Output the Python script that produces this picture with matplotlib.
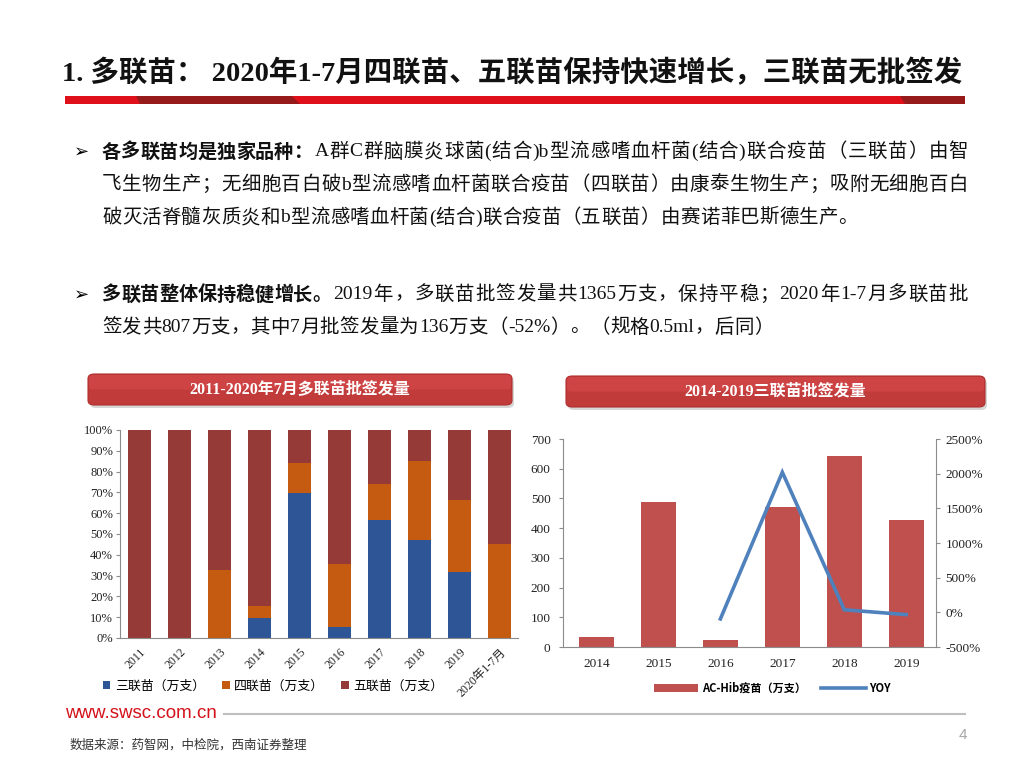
import re
import matplotlib
matplotlib.use('Agg')
import matplotlib.pyplot as plt
from matplotlib.patches import FancyBboxPatch, Polygon, Patch
from matplotlib.lines import Line2D
from matplotlib.font_manager import FontProperties
from matplotlib.ticker import FuncFormatter
import numpy as np

# ---------------- data ----------------
left_years = ['2011', '2012', '2013', '2014', '2015', '2016', '2017', '2018', '2019', '2020年1-7月']
san_share = [0, 0, 0, 9.6, 69.7, 5.1, 56.8, 47.0, 31.5, 0]        # 三联苗 %
si_share = [0, 0, 32.5, 5.6, 14.2, 30.4, 17.4, 38.1, 34.8, 45.3]   # 四联苗 %
wu_share = [100, 100, 67.5, 84.8, 16.1, 64.5, 25.8, 14.9, 33.7, 54.7]  # 五联苗 %
left_series = ['三联苗（万支）', '四联苗（万支）', '五联苗（万支）']

right_years = ['2014', '2015', '2016', '2017', '2018', '2019']
achib = [34, 489, 23, 470, 644, 428]
yoy = [np.nan, np.nan, -95, 2020, 37, -33]
right_series = ['AC-Hib疫苗（万支）', 'YOY']

title = '1. 多联苗： 2020年1-7月四联苗、五联苗保持快速增长，三联苗无批签发'
box_left = '2011-2020年7月多联苗批签发量'
box_right = '2014-2019三联苗批签发量'
para1 = [('各多联苗均是独家品种：', 'A群C群脑膜炎球菌(结合)b型流感嗜血杆菌(结合)联合疫苗（三联苗）由智'),
         ('', '飞生物生产；无细胞百白破b型流感嗜血杆菌联合疫苗（四联苗）由康泰生物生产；吸附无细胞百白'),
         ('', '破灭活脊髓灰质炎和b型流感嗜血杆菌(结合)联合疫苗（五联苗）由赛诺菲巴斯德生产。')]
para2 = [('多联苗整体保持稳健增长。', '2019年，多联苗批签发量共1365万支，保持平稳；2020年1-7月多联苗批'),
         ('', '签发共807万支，其中7月批签发量为136万支（-52%）。（规格0.5ml，后同）')]
source = '数据来源：药智网，中检院，西南证券整理'

# ---------------- style ----------------
FAM = ['Liberation Serif', 'Noto Sans CJK SC']
CJK = ['Noto Sans CJK SC', 'DejaVu Sans']
C_BLUE, C_ORANGE, C_RED = '#2E5596', '#C55A11', '#963A38'
C_BAR, C_LINE = '#C0504D', '#4F81BD'
W, H = 1024, 768

fig = plt.figure(figsize=(W / 100, H / 100), dpi=100)
fig.patch.set_facecolor('white')


def fx(x):
    return x / W


def fy(y):
    return 1 - y / H


# ---------------- slide title ----------------
fig.text(fx(62), fy(73), title, family=FAM, fontsize=20.5, fontweight='bold',
         va='center', ha='left', color='#111111')
bar_y0, bar_y1 = fy(104), fy(96)
fig.patches.append(Polygon([[fx(65), bar_y0], [fx(965), bar_y0], [fx(965), bar_y1], [fx(65), bar_y1]],
                           closed=True, transform=fig.transFigure, facecolor='#E0101A', edgecolor='none'))
fig.patches.append(Polygon([[fx(140), bar_y0], [fx(300), bar_y0], [fx(292), bar_y1], [fx(136), bar_y1]],
                           closed=True, transform=fig.transFigure, facecolor='#961A1A', edgecolor='none'))
fig.patches.append(Polygon([[fx(905), bar_y0], [fx(965), bar_y0], [fx(965), bar_y1], [fx(900), bar_y1]],
                           closed=True, transform=fig.transFigure, facecolor='#961A1A', edgecolor='none'))

# ---------------- bullet text (token layout with justification) ----------------
fig.canvas.draw()
renderer = fig.canvas.get_renderer()


def advance(tok, prop):
    w1, _, _ = renderer.get_text_width_height_descent('|' + tok + '|', prop, ismath=False)
    w0, _, _ = renderer.get_text_width_height_descent('||', prop, ismath=False)
    return w1 - w0


def place_run(x0, y, s, family, fs, weight, x_end=None, track=0.0):
    prop = FontProperties(family=family, size=fs, weight=weight)
    toks = re.findall(r'[\x00-\x7f]+|.', s)
    advs = [advance(t, prop) for t in toks]
    if x_end is not None and len(toks) > 1:
        track = (x_end - x0 - sum(advs)) / (len(toks) - 1)
    x = x0
    for t, a in zip(toks, advs):
        fig.text(fx(x), fy(y), t, fontproperties=prop, va='center', ha='left', color='#111111')
        x += a + track
    return x - track


NFS = 14
BFS = 13.8


def write_line(y, bold, normal, justify):
    x = 102
    if bold:
        x = place_run(x, y, bold, CJK, BFS, 'bold') + 2
    if justify:
        place_run(x, y, normal, FAM, NFS, 'normal', x_end=968)
    else:
        place_run(x, y, normal, FAM, NFS, 'normal', track=0.3)


fig.text(fx(74), fy(152), '➢', family=['DejaVu Sans'], fontsize=13, va='center', ha='left')
write_line(152, para1[0][0], para1[0][1], True)
write_line(185, '', para1[1][1], True)
write_line(218, '', para1[2][1], False)
fig.text(fx(74), fy(295), '➢', family=['DejaVu Sans'], fontsize=13, va='center', ha='left')
write_line(295, para2[0][0], para2[0][1], True)
write_line(328, '', para2[1][1], False)


# ---------------- chart title banners ----------------
def banner(x0, y0, x1, y1, text):
    shadow = FancyBboxPatch((fx(x0 + 2), fy(y1 + 3)), fx(x1 - x0), (y1 - y0) / H,
                            boxstyle='round,pad=0,rounding_size=0.006', transform=fig.transFigure,
                            facecolor='#BBBBBB', edgecolor='none', alpha=0.6)
    fig.patches.append(shadow)
    box = FancyBboxPatch((fx(x0), fy(y1)), fx(x1 - x0), (y1 - y0) / H,
                         boxstyle='round,pad=0,rounding_size=0.006', transform=fig.transFigure,
                         facecolor='#C23B3B', edgecolor='#B03030', linewidth=0.8)
    fig.patches.append(box)
    top = FancyBboxPatch((fx(x0 + 1), fy((y0 + y1) / 2)), fx(x1 - x0 - 2), (y1 - y0) / 2 / H - 1 / H,
                         boxstyle='round,pad=0,rounding_size=0.004', transform=fig.transFigure,
                         facecolor='#CE4444', edgecolor='none')
    fig.patches.append(top)
    fig.text(fx((x0 + x1) / 2), fy((y0 + y1) / 2), text, family=FAM, fontsize=11.5, fontweight='bold',
             color='white', ha='center', va='center')


banner(88, 374, 512, 405, box_left)
banner(566, 376, 985, 407, box_right)

# ---------------- left chart ----------------
ax1 = fig.add_axes([fx(120), fy(638), fx(398), 208 / H])
x = np.arange(len(left_years))
bw = 0.58
b1 = np.array(san_share)
b2 = np.array(si_share)
b3 = np.array(wu_share)
ax1.bar(x, b1, bw, color=C_BLUE, label=left_series[0])
ax1.bar(x, b2, bw, bottom=b1, color=C_ORANGE, label=left_series[1])
ax1.bar(x, b3, bw, bottom=b1 + b2, color=C_RED, label=left_series[2])
ax1.set_xlim(-0.49, len(left_years) - 0.54)
ax1.set_ylim(0, 100)
ax1.set_yticks(np.arange(0, 101, 10))
ax1.yaxis.set_major_formatter(FuncFormatter(lambda v, p: f'{int(v)}%'))
ax1.set_xticks(x)
ax1.set_xticklabels(left_years, rotation=45, ha='right', rotation_mode='anchor')
for lab in ax1.get_yticklabels():
    lab.set_fontfamily(FAM)
    lab.set_fontsize(9)
    lab.set_color('#222222')
for lab in ax1.get_xticklabels():
    lab.set_fontfamily(FAM)
    lab.set_fontsize(8.5)
    lab.set_color('#222222')
for s in ['top', 'right']:
    ax1.spines[s].set_visible(False)
for s in ['left', 'bottom']:
    ax1.spines[s].set_color('#8C8C8C')
    ax1.spines[s].set_linewidth(0.8)
ax1.tick_params(axis='y', length=3, color='#8C8C8C', pad=2)
ax1.tick_params(axis='x', length=0, pad=6)

h1 = [Patch(facecolor=C_BLUE), Patch(facecolor=C_ORANGE), Patch(facecolor=C_RED)]
fig.legend(h1, left_series, loc='center left', bbox_to_anchor=(fx(91), fy(686)), ncol=3,
           frameon=False, handlelength=0.6, handleheight=0.6, handletextpad=0.35, columnspacing=1.3,
           prop=FontProperties(family=CJK, size=9.3))

# ---------------- right chart ----------------
ax2 = fig.add_axes([fx(563), fy(647), fx(373), 208 / H])
xr = np.arange(len(right_years))
ax2.bar(xr, achib, 0.56, color=C_BAR, label=right_series[0])
ax2.set_xlim(-0.54, len(right_years) - 0.52)
ax2.set_ylim(0, 700)
ax2.set_yticks(np.arange(0, 701, 100))
ax2.set_xticks(xr)
ax2.set_xticklabels(right_years)
ax3 = ax2.twinx()
ax3.plot(xr, yoy, color=C_LINE, lw=2.6, solid_joinstyle='miter')
ax3.set_ylim(-500, 2500)
ax3.set_yticks(np.arange(-500, 2501, 500))
ax3.yaxis.set_major_formatter(FuncFormatter(lambda v, p: f'{int(v)}%'))
for a in (ax2, ax3):
    for lab in a.get_xticklabels() + a.get_yticklabels():
        lab.set_fontfamily(FAM)
        lab.set_fontsize(9.5)
        lab.set_color('#222222')
    a.spines['top'].set_visible(False)
    for s in ['left', 'bottom', 'right']:
        a.spines[s].set_color('#8C8C8C')
        a.spines[s].set_linewidth(0.8)
ax2.spines['right'].set_visible(False)
ax3.spines['left'].set_visible(False)
ax3.spines['bottom'].set_visible(False)
ax2.tick_params(axis='y', length=3, color='#8C8C8C', pad=6)
ax2.tick_params(axis='x', length=0, pad=8)
ax3.tick_params(axis='y', length=3, color='#8C8C8C', pad=4)

h2 = [Patch(facecolor=C_BAR), Line2D([], [], color=C_LINE, lw=2.6)]
fig.legend(h2, right_series, loc='center left', bbox_to_anchor=(fx(644), fy(688)), ncol=2,
           frameon=False, handlelength=4.0, handleheight=0.75, handletextpad=0.3, columnspacing=1.4,
           prop=FontProperties(family=CJK, size=8, weight='bold'))

# ---------------- footer ----------------
fig.text(fx(65), fy(714), 'www.swsc.com.cn', family=['Liberation Sans Narrow', 'Liberation Sans'],
         fontsize=13.5, color='#D3121A', va='center', ha='left')
fig.lines.append(Line2D([fx(224), fx(965)], [fy(714), fy(714)], transform=fig.transFigure,
                        color='#BFBFBF', lw=1.5))
fig.text(fx(963), fy(735), '4', family=['Liberation Sans'], fontsize=11, color='#A6A6A6',
         va='center', ha='center')
fig.text(fx(70), fy(745), source, family=CJK, fontsize=9, color='#333333', va='center', ha='left')

fig.savefig('out.png', dpi=100, facecolor='white')
